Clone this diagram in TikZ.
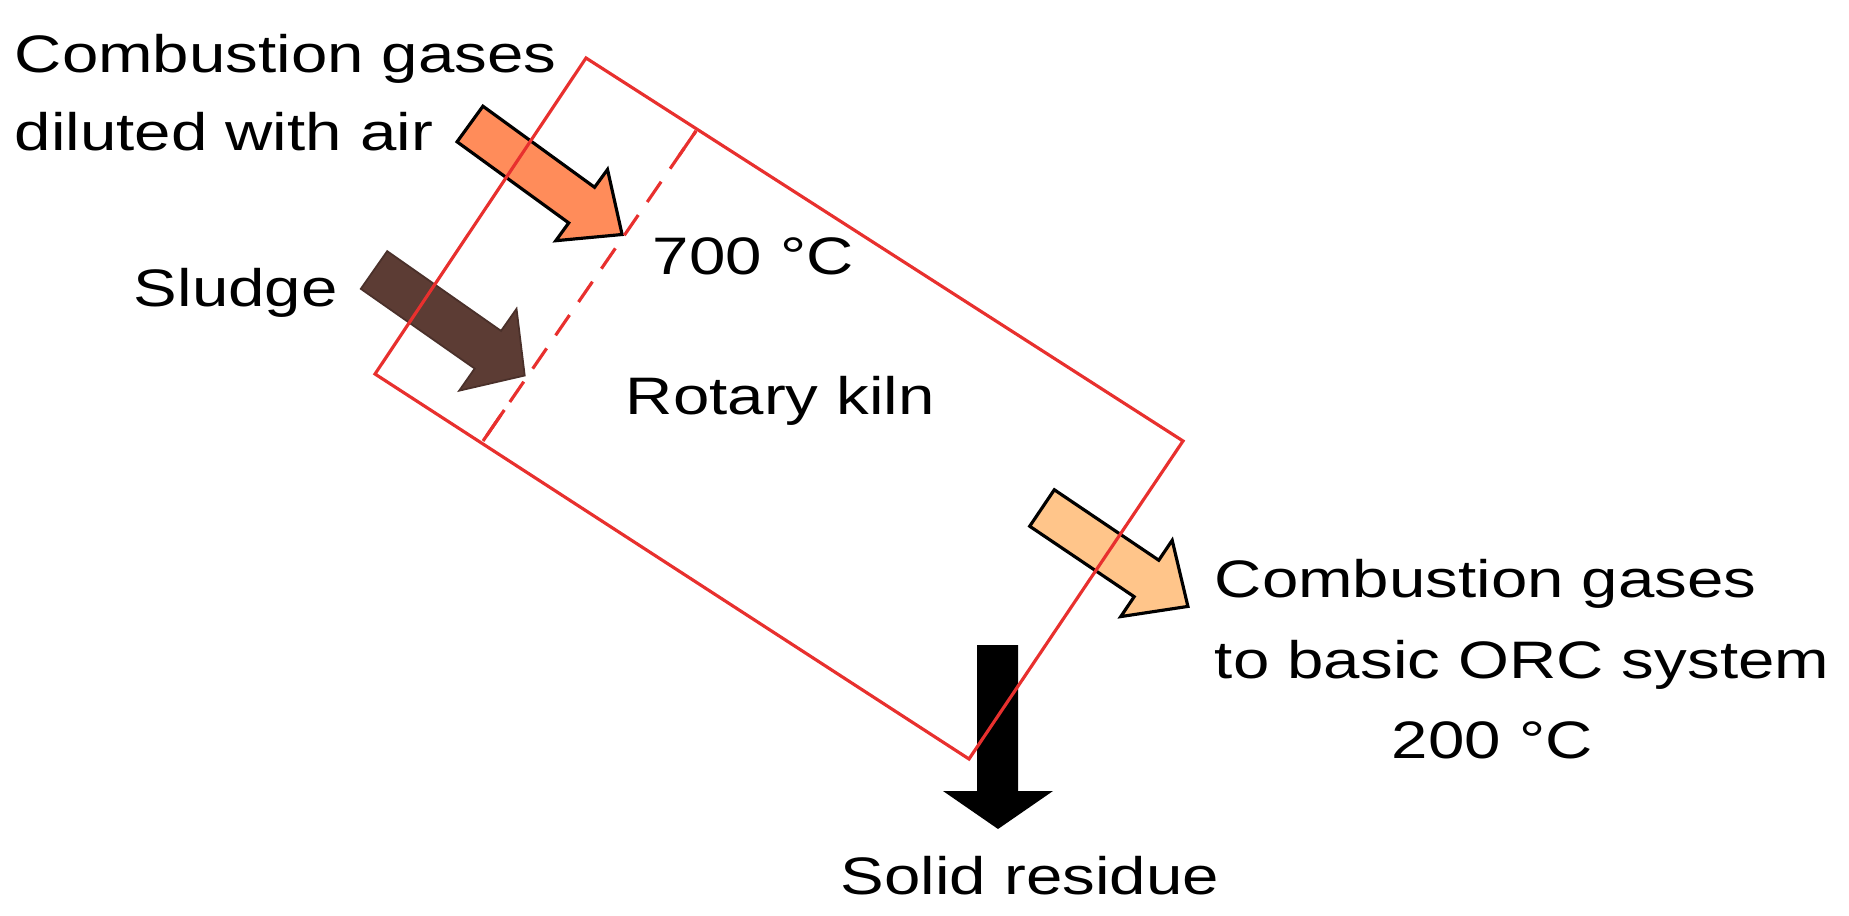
\documentclass[tikz,border=0pt]{standalone}
\usepackage{fontspec}
\usetikzlibrary{calc}
\setmainfont{Liberation Sans}
\definecolor{kred}{RGB}{232,48,46}
\definecolor{hot}{RGB}{255,140,90}
\definecolor{warm}{RGB}{255,197,138}
\definecolor{mud}{RGB}{92,60,52}
\newcommand\blockarr[8]{\path[#1,shift={(#2,#3)},rotate=#4] (0,#6)--({#5-#8},#6)--({#5-#8},#7)--(#5,0)--({#5-#8},-#7)--({#5-#8},-#6)--(0,-#6)--cycle;}
\begin{document}
\begin{tikzpicture}[x=0.01cm,y=-0.01cm,
  lab/.style={font=\fontsize{15}{18}\selectfont,xscale=1.24,inner sep=0pt,anchor=base west},
  kiln/.style={draw=kred,line width=0.9pt},
  arr/.style={draw=black,line width=0.9pt,line join=miter}]
\useasboundingbox (0,0) rectangle (1849,916);
% arrows
\blockarr{arr,fill=hot}{470}{124}{-36}{188}{22}{44}{50}
\blockarr{draw=mud!80!black,line width=0.5pt,fill=mud}{374}{270}{-35}{184}{23}{50}{45}
\blockarr{arr,fill=warm}{1042}{508}{-34}{176}{22}{46}{50}
\fill[black] (977,645)--(1018,645)--(1018,791)--(1053,791)--(998,829)--(943,791)--(977,791)--cycle;
% kiln
\coordinate (T) at (586,58);
\coordinate (R) at (1183,441);
\coordinate (B) at (969,759);
\coordinate (L) at (375,374);
\draw[kiln] (T)--(R)--(B)--(L)--cycle;
\coordinate (d1) at (696,131);
\coordinate (d2) at (483,441);
\draw[kiln,dash pattern=on 7pt off 4.5pt,dash phase=-6pt] (d1)--(d2);
\draw[kiln] (d1)--($(d1)!0.08!(d2)$) (d2)--($(d2)!0.1!(d1)$);
% labels
\node[lab] (t1) at (14,73) {Combustion gases};
\node[lab] (t2) at (14,151) {diluted with air};
\node[lab] (t3) at (133,307) {Sludge};
\node[lab] (t4) at (652,275) {700 °C};
\node[lab] (t5) at (625,415) {Rotary kiln};
\node[lab] (t6) at (1214,597) {Combustion gases};
\node[lab] (t7) at (1214,678) {to basic ORC system};
\node[lab] (t8) at (1391,758) {200 °C};
\node[lab] (t9) at (840,894) {Solid residue};
\end{tikzpicture}
\end{document}
